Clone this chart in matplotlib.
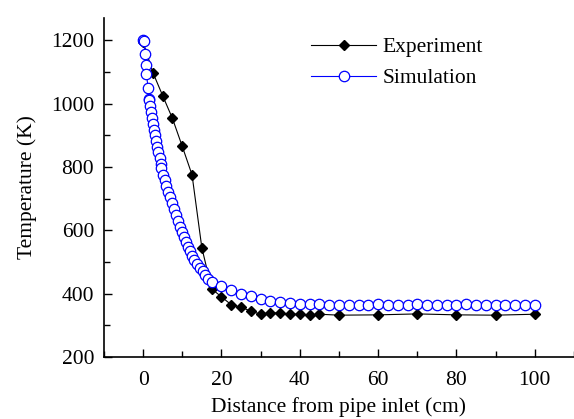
import matplotlib
matplotlib.use("Agg")
import matplotlib.pyplot as plt
from matplotlib.ticker import MultipleLocator

plt.rcParams['font.family'] = ['Liberation Serif', 'DejaVu Serif']

# Experiment (diamonds)
exp_x = [0, 2.5, 5, 7.5, 10, 12.5, 15, 17.5, 20, 22.5, 25, 27.5, 30, 32.5, 35,
         37.5, 40, 42.5, 45, 50, 60, 70, 80, 90, 100]
exp_t = [1195, 1098, 1025, 953, 865, 775, 545, 415, 390, 365, 357, 345, 335, 340, 338,
         335, 335, 332, 335, 332, 333, 336, 333, 332, 335]

# Simulation (open circles)
sim_x = [0, 0.25, 0.43, 0.69, 0.87, 1.27, 1.45, 1.63, 1.88, 2.14, 2.39, 2.65, 2.9,
         3.16, 3.41, 3.66, 3.92, 4.25, 4.58, 4.68, 5.09, 5.52, 5.95, 6.36, 6.79,
         7.3, 7.81, 8.32, 8.83, 9.34, 9.85, 10.36, 10.87, 11.37, 11.88, 12.47,
         13.08, 13.66, 14.43, 15.27, 15.9, 16.6, 17.5, 20, 22.5, 25, 27.5, 30,
         32.5, 35, 37.5, 40, 42.5, 45, 47.5, 50, 52.5, 55, 57.5, 60, 62.5, 65,
         67.5, 70, 72.5, 75, 77.5, 80, 82.5, 85, 87.5, 90, 92.5, 95, 97.5, 100]
sim_t = [1200, 1199, 1155, 1122, 1094, 1048, 1015, 1011, 992, 974, 955, 937, 918,
         901, 882, 864, 846, 827, 808, 795, 776, 758, 740, 721, 704,
         685, 666, 648, 630, 611, 596, 580, 564, 548, 533, 519,
         506, 494, 482, 471, 458, 447, 436, 425, 410, 400, 391, 384,
         378, 373, 369, 367, 366, 366, 365, 364, 365, 364, 365, 366, 364, 364,
         365, 366, 365, 364, 364, 365, 366, 364, 364, 365, 364, 364, 365, 364]

fig = plt.figure(figsize=(5.74, 4.19), dpi=100)
ax = fig.add_axes([0.181, 0.148, 0.819, 0.809])

ax.plot(exp_x, exp_t, color='black', lw=0.8, marker='D', ms=5.5,
        mfc='black', mec='black', label='Experiment')
ax.plot(sim_x, sim_t, color='blue', lw=0.8, marker='o', ms=7.5,
        mfc='white', mec='blue', mew=0.9, label='Simulation')

ax.set_xlim(-10, 110)
ax.set_ylim(200, 1270)
ax.xaxis.set_major_locator(MultipleLocator(20))
ax.xaxis.set_minor_locator(MultipleLocator(10))
ax.yaxis.set_major_locator(MultipleLocator(200))
ax.yaxis.set_minor_locator(MultipleLocator(100))
ax.tick_params(which='both', direction='in', labelsize=15.5, width=1)
ax.tick_params(which='major', length=6)
ax.tick_params(which='minor', length=4)
ax.tick_params(axis='x', which='major', pad=10)
ax.tick_params(axis='y', which='major', pad=7)
ax.spines['top'].set_visible(False)
ax.spines['right'].set_visible(False)
for s in ['left', 'bottom']:
    ax.spines[s].set_linewidth(1.2)

ax.set_xlabel("Distance from pipe inlet (cm)", fontsize=15.5, labelpad=5)
ax.set_ylabel("Temperature (K)", fontsize=15.5, labelpad=10)

ax.legend(loc='upper right', bbox_to_anchor=(0.847, 1.0), frameon=False,
          fontsize=15.5, handlelength=3.0, handletextpad=0.3, labelspacing=0.5)

fig.savefig("out.png", dpi=100)
